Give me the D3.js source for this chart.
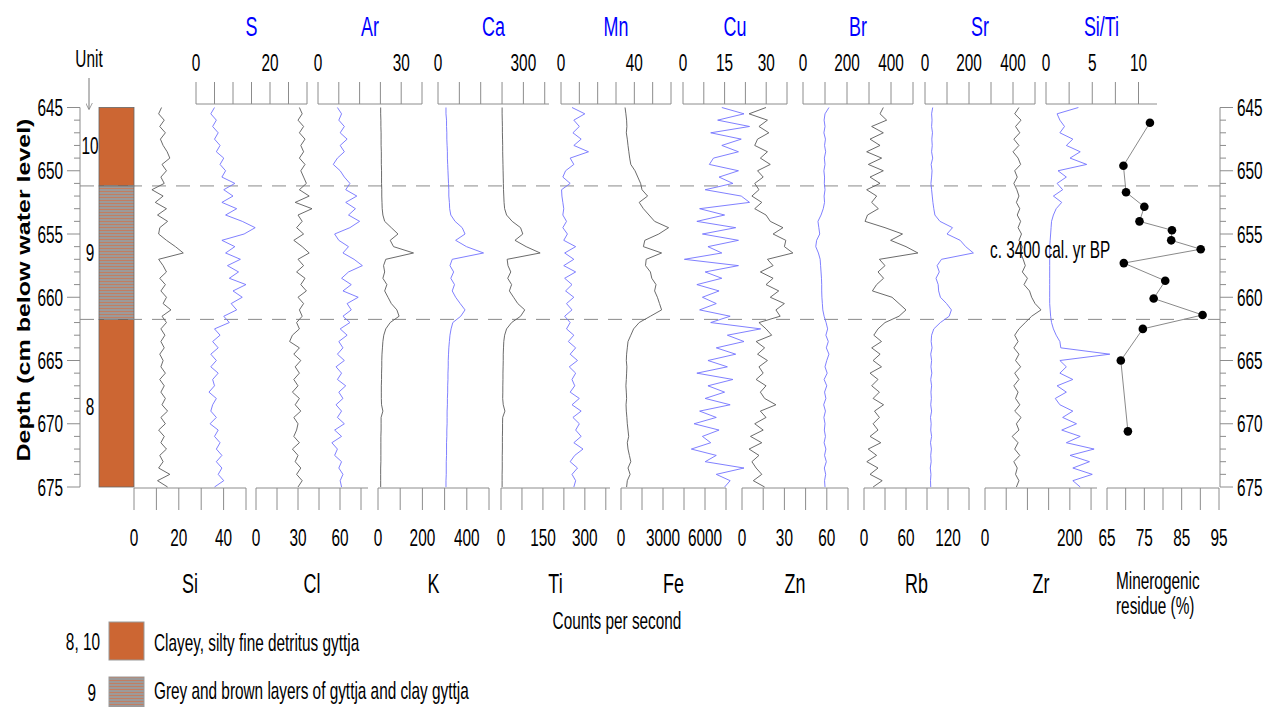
<!DOCTYPE html>
<html><head><meta charset="utf-8">
<script src="https://cdn.jsdelivr.net/npm/d3@7"></script>
<style>body{margin:0;background:#fff}svg{display:block}</style>
</head><body>
<svg id="c" width="1275" height="707"></svg>
<script>
// ---------------- DATA ----------------
const depth = d3.range(645, 675.001, 0.5); // sampling depths (cm)

const siVals = [12.3,11.0,13.5,11.5,14.0,11.8,13.0,14.8,16.0,12.5,14.5,12.0,13.5,8.0,13.0,9.5,14.5,10.5,15.0,11.5,11.0,14.5,18.5,22.0,11.0,13.0,14.5,11.5,14.0,12.0,14.5,13.0,16.5,12.5,14.5,12.0,13.8,12.0,13.5,11.5,13.0,12.0,14.0,11.5,13.5,12.0,14.0,12.5,15.0,12.0,14.0,11.0,13.5,12.0,14.5,11.5,13.0,11.0,16.0,10.5,15.0];
const sVals = [5.0,4.0,5.5,4.5,6.0,5.0,6.5,5.5,7.5,6.5,8.0,7.0,10.5,7.5,10.0,7.0,11.0,8.0,12.5,16.0,13.0,7.0,10.5,8.0,12.0,8.5,11.5,9.0,13.5,10.0,12.5,9.5,11.0,7.5,9.0,5.0,6.5,4.5,6.0,4.0,5.5,4.0,6.0,4.5,5.0,3.5,5.5,4.5,4.0,5.5,3.8,6.0,5.0,6.5,5.5,7.0,5.5,7.0,6.0,7.5,5.0];
const clVals = [31,33,30,34,31,35,32,34,31,35,32,34,36,31,38,28,40,30,33,29,34,27,33,38,30,34,29,35,32,36,30,34,31,33,29,31,26,24,31,27,32,28,31,27,30,26,31,28,32,27,30,29,27,31,26,30,28,32,29,33,30];
const arVals = [7,8.5,7.5,9.5,8,10.5,8,9.5,7,5.5,8,9.5,11.5,10,14,10,13.5,11,15,11.5,6,7.5,11,9,13,16,11,8.5,12,9,14.5,10.5,12,9,11.5,8,10.5,7.5,9,7,9.5,6.5,8.5,7,10,7.5,9,6.5,8.5,7,9.5,6,8.5,5,7,6,8.5,7.5,9,8,8.5];
const kVals = [12,12,13,13,14,14,14,15,15,15,16,16,16,17,17,18,19,22,30,60,90,55,70,160,35,25,30,22,40,30,45,60,85,95,55,35,26,22,20,18,17,17,16,16,15,15,15,16,22,14,14,14,13,13,13,13,13,12,12,12,12];
const caVals = [28,28,30,30,31,31,32,33,33,34,35,36,37,38,38,40,41,45,60,85,95,62,100,160,50,42,55,45,58,50,62,78,95,80,52,46,42,40,38,37,36,36,35,35,34,34,33,33,32,32,32,31,31,30,30,30,29,29,29,28,28];
const tiVals = [4,4,4.5,5,5,5.5,6,6,6.5,7,7.5,8,8.5,9,10,11,13,20,40,70,78,50,90,140,22,25,35,24,38,30,45,60,85,70,38,20,13,10,9,8,8,7.5,7,7,6.5,6.5,6,8,14,6,5.5,5.5,5,5,5,4.5,4.5,4.5,4,4,4];
const mnVals = [6,13,7,10,6.5,11,7,15,5,7,2.5,1,5,0.3,0.5,1,1.5,1,3,1,3.5,1.5,8,2,7,1.5,8,2,6,2.5,7,3,6,2,5,3,7,4,8,5,9,4.5,8,6,7.5,5,10,6,11,6.5,10,8,11,7,12,7.5,5,9,6,8,7];
const feVals = [290,350,400,420,380,450,500,560,620,700,1000,1200,1400,1500,1900,1300,1600,2000,2400,3400,2700,1700,1600,2900,1800,1750,2100,2200,2500,2400,2600,2750,2900,2100,1300,900,700,500,450,400,380,420,400,380,350,380,400,360,380,420,450,500,550,450,500,600,700,500,650,450,400];
const cuVals = [14,22,12.5,24,10,21,14,20,11,9.5,20,13,18,8,21,24,6,15,5,19,7,20,9,14,0.5,20,8,14,5,13,7,12,6,17,10,28,16,22,12,19,9,16,5,18,9,15,8,17,6,12,4,13,7,10,3,12,8,22,12,17,15];
const znVals = [17,5,18,12,19,11,9,18,13,20,11,15,9,12,7,14,9,17,20,29,22,31,30,36,18,22,13,22,17,26,20,30,24,27,12,17,21,10,16,11,18,12,15,10,17,13,16,24,13,17,9,15,6,14,5,12,7,10,14,8,16];
const brVals = [118,100,96,100,95,102,98,103,97,100,95,98,97,100,96,98,92,82,68,72,76,62,58,70,78,80,82,84,85,85,86,88,90,96,105,112,104,115,106,118,108,100,110,96,108,98,104,94,102,95,100,97,102,96,104,98,106,97,103,98,100];
const rbVals = [27.6,22.9,32.4,10.9,27.6,8.6,22.9,3.8,25.2,6.2,27.6,8.6,22.9,3.8,18.1,10.9,20.5,5,1.5,30,55,38,60,77,22,30,20,28,18,12,40,50,60,50,30,20,14,25,11,23,13,25,8.6,20,11,22,13,28,15,22,13,20,8.6,24,6,18,4,20,8.6,26,13];
const srVals = [35,30,32,30,34,31,33,30,35,28,32,30,27,30,33,36,40,45,68,125,100,160,185,220,75,55,65,50,60,62,70,98,120,110,70,40,30,28,32,26,30,27,31,26,30,27,29,26,30,25,28,26,30,25,29,26,28,24,27,25,26];
const zrVals = [80,70,85,72,82,68,80,66,78,84,70,76,68,75,80,74,82,76,84,78,86,80,88,84,90,95,88,100,92,105,110,118,132,110,95,80,70,78,68,80,72,84,70,80,68,78,72,82,70,85,74,80,64,78,70,82,68,76,72,80,74];
const siTiVals = [3.5,1.2,1.5,2.0,1.5,2.9,2.2,3.7,2.6,4.4,1.3,2.2,1.2,1.8,0.8,1.7,1.1,0.8,0.6,0.55,0.5,0.45,0.4,0.4,0.4,0.4,0.4,0.4,0.4,0.4,0.4,0.4,0.45,0.5,0.6,0.8,1.1,1.5,1.6,6.9,1.5,2.2,1.5,2.9,1.2,2.2,1.0,1.5,2.9,1.8,3.3,1.7,3.7,2.2,5.2,2.6,4.7,2.9,5.0,2.9,3.7];

const minDepth = [646.2,649.6,651.7,652.85,654.0,654.7,655.5,656.2,657.3,658.7,660.1,661.4,662.5,665.0,670.6];
const minVal   = [76.5,69.4,70.1,75.0,73.7,82.4,82.2,90.1,69.5,80.6,77.5,90.6,74.6,68.7,70.6];

const topNames = ["S","Ar","Ca","Mn","Cu","Br","Sr","Si/Ti"];
const topSeries = [sVals,arVals,caVals,mnVals,cuVals,brVals,srVals,siTiVals];
const topDomains = [[0,30],[0,37.5],[0,390],[0,60],[0,37.5],[0,500],[0,500],[0,12]];
const topTickStep = [5,7.5,75,10,7.5,100,100,2.5];
const topTickMax = [30,37.5,375,60,37.5,500,500,10];
const topTickLabels = [[0,20],[0,30],[0,300],[0,40],[0,15,30],[0,200,400],[0,200,400],[0,5,10]];

const botNames = ["Si","Cl","K","Ti","Fe","Zn","Rb","Zr"];
const botSeries = [siVals,clVals,kVals,tiVals,feVals,znVals,rbVals,zrVals];
const botDomains = [[0,50],[0,80],[0,500],[0,390],[0,7500],[0,75],[0,150],[0,264]];
const botTickStep = [10,15,100,75,1500,15,30,50];
const botTickMax = [50,75,500,375,7500,75,150,250];
const botTickLabels = [[0,20,40],[0,30,60],[0,200,400],[0,150,300],[0,3000,6000],[0,30,60],[0,60,120],[0,200]];

const minDomain = [65,95];
const minTickLabels = [65,75,85,95];
const depthTickLabels = [645,650,655,660,665,670,675];
const unitBounds = [645,651.2,661.75,675];
const unitNames = ["10","9","8"];
const unitLabelDepth = [648,656.5,668.6];

// ---------------- LAYOUT ----------------
const topX = [[196,307],[318,422],[438,549],[561,671],[683,787],[803,913],[925,1035],[1046,1157]];
const botX = [[134,246],[256,368],[378,489],[501,610],[621,726],[742,848],[864,969],[985,1097]];
const minX = [1107,1219];
const yTopAxis = 104, yBotAxis = 488;
const FONT = '"Liberation Sans", Arial, sans-serif';
const SX = 0.64;
const FS = 24, FS_NAME = 28;
const AX = "#8c8c8c";
const BLUE_LINE = "#7272ff", BLACK_LINE = "#5a5a5a";

const svg = d3.select("#c");
const y = d3.scaleLinear().domain([645,675]).range([107.5,487]);

function txt(x, yy, s, o = {}) {
  const t = svg.append("text")
    .attr("transform", `translate(${x},${yy}) scale(${o.sx || SX},1)`)
    .attr("font-family", FONT).attr("font-size", o.fs || FS)
    .attr("text-anchor", o.anchor || "middle")
    .attr("fill", o.fill || "#000").text(s);
  if (o.weight) t.attr("font-weight", o.weight);
  return t;
}

// defs: unit-9 pattern
const defs = svg.append("defs");
const pat = defs.append("pattern").attr("id","layers").attr("patternUnits","userSpaceOnUse")
  .attr("width",6).attr("height",3);
pat.append("rect").attr("width",6).attr("height",3).attr("fill","#9c9a9a");
pat.append("rect").attr("y",2).attr("width",6).attr("height",1).attr("fill","#c27e62");

// ---------------- DEPTH AXES ----------------
function depthAxis(x, side) {
  const dir = side === "left" ? -1 : 1;
  svg.append("line").attr("x1",x).attr("x2",x).attr("y1",y(645)).attr("y2",y(675)).attr("stroke",AX);
  d3.range(645,675.01,1).forEach(d => {
    const major = d % 5 === 0;
    svg.append("line").attr("x1",x).attr("x2",x + dir*(major?13:6))
      .attr("y1",y(d)).attr("y2",y(d)).attr("stroke",AX);
  });
  depthTickLabels.forEach(d => {
    txt(x + dir*17, y(d)+8.5, d, {anchor: side==="left"?"end":"start"});
  });
}
depthAxis(80,"left");
depthAxis(1220,"right");

svg.append("text")
  .attr("transform",`translate(30,290) rotate(-90) scale(1,0.7)`)
  .attr("font-family",FONT).attr("font-size",25).attr("font-weight","bold")
  .attr("text-anchor","middle").text("Depth (cm below water level)");

// ---------------- UNIT COLUMN ----------------
[0,1,2].forEach(i => {
  svg.append("rect").attr("x",99).attr("width",35)
    .attr("y",y(unitBounds[i])).attr("height",y(unitBounds[i+1])-y(unitBounds[i]))
    .attr("fill", i===1 ? "url(#layers)" : "#cc6633").attr("stroke","#666").attr("stroke-width",0.8);
  txt(90, y(unitLabelDepth[i])+8.5, unitNames[i]);
});
txt(89, 67, "Unit");
defs.append("marker").attr("id","arr").attr("viewBox","0 0 10 10").attr("refX",9).attr("refY",5)
  .attr("markerWidth",7).attr("markerHeight",7).attr("orient","auto")
  .append("path").attr("d","M0,0 L10,5 L0,10").attr("fill","none").attr("stroke","#777");
svg.append("line").attr("x1",89).attr("x2",89).attr("y1",78).attr("y2",109)
  .attr("stroke","#777").attr("marker-end","url(#arr)");

// dashed unit boundaries
[unitBounds[1], unitBounds[2]].forEach(d => {
  svg.append("line").attr("x1",80).attr("x2",1220).attr("y1",y(d)).attr("y2",y(d))
    .attr("stroke","#8a8a8a").attr("stroke-dasharray","14,10");
});

// ---------------- PANELS ----------------
function panel(range, domain, step, tmax, labels, vals, top, name) {
  const x = d3.scaleLinear().domain(domain).range(range);
  const ya = top ? yTopAxis : yBotAxis;
  const dir = top ? -1 : 1;
  svg.append("line").attr("x1",range[0]).attr("x2",range[1]).attr("y1",ya).attr("y2",ya).attr("stroke",AX);
  d3.range(domain[0], tmax + step*0.01, step).forEach(v => {
    svg.append("line").attr("x1",x(v)).attr("x2",x(v)).attr("y1",ya).attr("y2",ya + dir*22).attr("stroke",AX);
  });
  labels.forEach(v => txt(x(v), top ? 71 : 546, v));
  if (top) txt((range[0]+range[1])/2, 36, name, {fs:FS_NAME, fill:"#0000ff"});
  else txt((range[0]+range[1])/2, 593, name, {fs:FS_NAME});
  const line = d3.line().x(d => x(d[1])).y(d => y(d[0]));
  svg.append("path").datum(depth.map((d,i) => [d, vals[i]]))
    .attr("d", line).attr("fill","none")
    .attr("stroke", top ? BLUE_LINE : BLACK_LINE).attr("stroke-width",0.9);
}
topNames.forEach((n,i) => panel(topX[i], topDomains[i], topTickStep[i], topTickMax[i], topTickLabels[i], topSeries[i], true, n));
botNames.forEach((n,i) => panel(botX[i], botDomains[i], botTickStep[i], botTickMax[i], botTickLabels[i], botSeries[i], false, n));

// minerogenic residue
const xm = d3.scaleLinear().domain(minDomain).range(minX);
svg.append("line").attr("x1",minX[0]).attr("x2",minX[1]).attr("y1",yBotAxis).attr("y2",yBotAxis).attr("stroke",AX);
d3.range(65,95.01,5).forEach(v => {
  svg.append("line").attr("x1",xm(v)).attr("x2",xm(v)).attr("y1",yBotAxis).attr("y2",yBotAxis+22).attr("stroke",AX);
});
minTickLabels.forEach(v => txt(xm(v), 546, v));
const mpts = minDepth.map((d,i) => [d, minVal[i]]);
svg.append("path").datum(mpts).attr("d", d3.line().x(d=>xm(d[1])).y(d=>y(d[0])))
  .attr("fill","none").attr("stroke","#8a8a8a").attr("stroke-width",1);
svg.selectAll("circle.m").data(mpts).enter().append("circle")
  .attr("cx",d=>xm(d[1])).attr("cy",d=>y(d[0])).attr("r",4.3).attr("fill","#000");
txt(1116, 589, "Minerogenic", {anchor:"start"});
txt(1116, 614, "residue (%)", {anchor:"start"});

txt(990, 258, "c. 3400 cal. yr BP", {anchor:"start"});
txt(617, 629, "Counts per second");

// ---------------- LEGEND ----------------
svg.append("rect").attr("x",109).attr("y",622).attr("width",35).attr("height",38)
  .attr("fill","#cc6633").attr("stroke","#999");
svg.append("rect").attr("x",109).attr("y",677).attr("width",35).attr("height",38)
  .attr("fill","url(#layers)").attr("stroke","#999");
txt(100, 650, "8, 10", {anchor:"end"});
txt(96, 701, "9", {anchor:"end"});
txt(154, 651, "Clayey, silty fine detritus gyttja", {anchor:"start"});
txt(154, 699, "Grey and brown layers of gyttja and clay gyttja", {anchor:"start"});
</script>
</body></html>
